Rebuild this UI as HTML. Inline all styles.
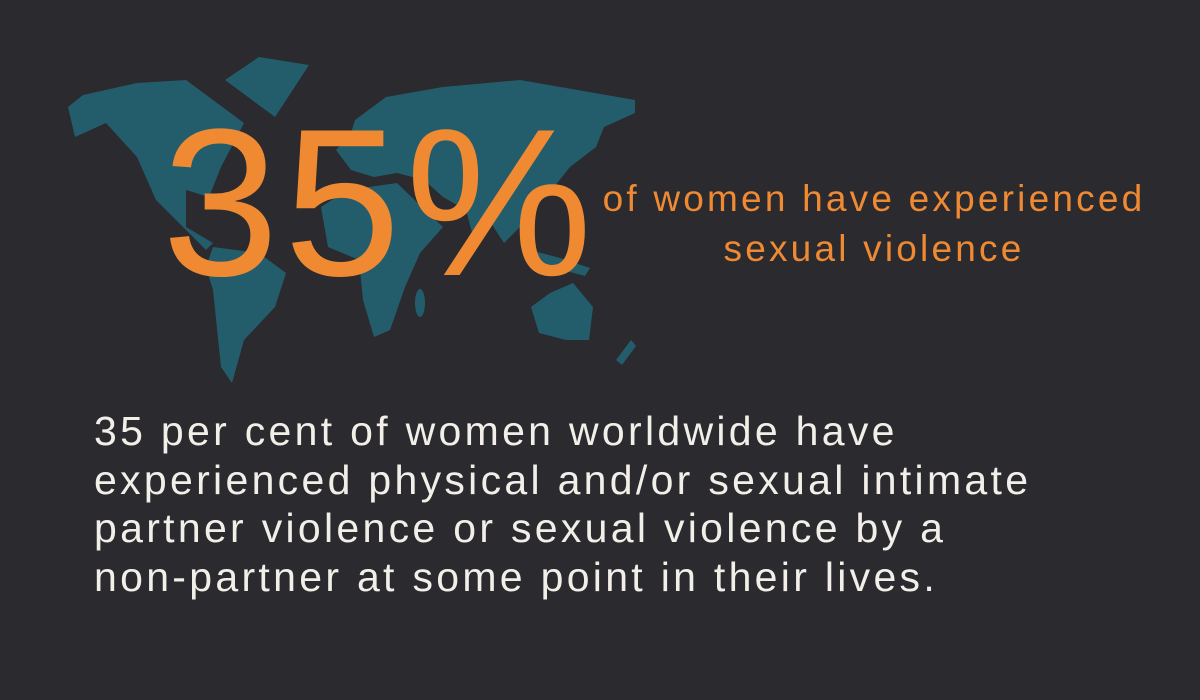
<!DOCTYPE html>
<html><head><meta charset="utf-8"><style>
html,body{margin:0;padding:0;background:#2a2a2f;}
#root{position:relative;width:1200px;height:700px;overflow:hidden;background:#2a2a2f;font-family:"Liberation Sans",sans-serif;}
#map{position:absolute;left:0;top:0;}
.big{position:absolute;left:162px;top:98px;font-size:210px;color:#ef8a33;line-height:1;letter-spacing:5px;}
.sub{position:absolute;left:588px;top:174px;width:572px;text-align:center;font-size:37px;color:#ef8a33;line-height:50px;letter-spacing:3.2px;}
.body{position:absolute;left:94px;top:407px;font-size:41px;color:#f2efe9;line-height:48.5px;letter-spacing:3.3px;}
</style></head><body>
<div id="root">
<svg id="map" width="1200" height="700">
<g fill="#235d6c">
<polygon points="68,107 83,95 137,83 186,80 244,123 221,167 209,197 186,190 186,227 213,243 206,250 156,200 137,157 106,123 75,137"/>
<polygon points="225,80 259,57 309,65 275,117 252,100"/>
<polygon points="213,247 259,253 286,273 275,307 244,340 232,383 221,367 213,290 206,267"/>
<polygon points="355,120 386,97 443,87 520,80 635,100 635,113 604,127 596,147 570,167 554,187 535,207 520,227 504,243 489,220 474,240 466,210 443,197 424,180 397,173 374,177 351,170 336,150 351,133"/>
<polygon points="321,207 347,190 397,183 428,213 443,227 420,253 405,287 390,330 374,337 363,300 359,260 328,247"/>
<ellipse cx="420" cy="303" rx="5" ry="14"/>
<polygon points="531,307 550,293 573,283 593,307 589,340 566,340 539,333"/>
<polygon points="530,250 560,258 590,268 585,276 555,268 528,258"/>
<polygon points="631,340 636,346 622,365 616,360"/>
</g>
</svg>
<div class="big">35%</div>
<div class="sub">of women have experienced<br>sexual violence</div>
<div class="body">35 per cent of women worldwide have<br>experienced physical and/or sexual intimate<br>partner violence or sexual violence by a<br>non-partner at some point in their lives.</div>
</div>
</body></html>
